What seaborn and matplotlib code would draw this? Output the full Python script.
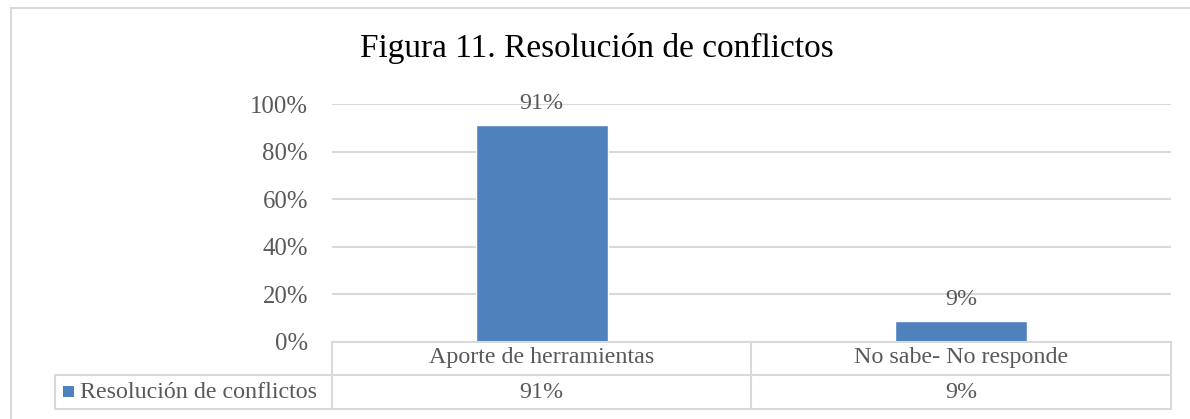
import matplotlib
matplotlib.use("Agg")
import matplotlib.pyplot as plt
import seaborn as sns
import pandas as pd
from matplotlib.lines import Line2D
from matplotlib.patches import Rectangle
from matplotlib.ticker import PercentFormatter

categories = ["Aporte de herramientas", "No sabe- No responde"]
values = [0.91, 0.09]
value_labels = ["91%", "9%"]
series_name = "Resolución de conflictos"
title = "Figura 11. Resolución de conflictos"
yticks = [0, 0.2, 0.4, 0.6, 0.8, 1.0]

sns.set_theme(style="white")
plt.rcParams["font.family"] = ["Liberation Serif", "DejaVu Serif"]

W, H = 1190, 419
fig = plt.figure(figsize=(W / 100, H / 100), dpi=100)

def fx(px):
    return px / W

def fy(py):
    return 1 - py / H

L, R, T, B = 332, 1171, 104, 342
ax = fig.add_axes([fx(L), fy(B), fx(R) - fx(L), fy(T) - fy(B)])

blue = "#4F81BD"
grid = "#D9D9D9"
txt = "#595959"
fs = 17.3

df = pd.DataFrame({"cat": categories, "val": values})
sns.barplot(data=df, x="cat", y="val", color=blue, width=0.315, ax=ax,
            saturation=1)
ax.set_ylim(0, 1)
ax.set_xlim(-0.5, 1.5)
ax.set_yticks(yticks)
ax.yaxis.set_major_formatter(PercentFormatter(1.0, decimals=0))
ax.tick_params(axis="y", length=0, pad=17.3, labelsize=17.8, labelcolor=txt)
ax.set_xticks([])
ax.set_xlabel("")
ax.set_ylabel("")
for s in ax.spines.values():
    s.set_visible(False)
ax.grid(axis="y", color=grid, linewidth=1.5)
ax.set_axisbelow(True)

for i, (v, lab) in enumerate(zip(values, value_labels)):
    ax.annotate(lab, (i, v), xytext=(0, 11), textcoords="offset pixels",
                ha="center", va="bottom", fontsize=fs, color=txt)

# data table lines
def hline(y, x0, x1):
    fig.add_artist(Line2D([fx(x0), fx(x1)], [fy(y), fy(y)], color=grid, lw=1.5))

def vline(x, y0, y1):
    fig.add_artist(Line2D([fx(x), fx(x)], [fy(y0), fy(y1)], color=grid, lw=1.5))

mid = 751
hline(342, L, R)
hline(375, 55, R)
hline(409, 55, R)
vline(L, 342, 409)
vline(mid, 342, 409)
vline(R, 342, 409)
vline(55, 375, 409)

# outer chart border
hline(8, 11, 1190)
vline(11, 8, 419)

for i, c in enumerate(categories):
    ax.text(i, -((358 - B) / (B - T)), c, ha="center", va="center",
            fontsize=fs, color=txt, transform=ax.transData, clip_on=False)
    ax.text(i, -((392 - B) / (B - T)), value_labels[i], ha="center", va="center",
            fontsize=fs, color=txt, transform=ax.transData, clip_on=False)

fig.add_artist(Rectangle((fx(63), fy(397)), fx(74) - fx(63), fy(386) - fy(397),
                         color=blue, lw=0))
fig.text(fx(80), fy(392), series_name, ha="left", va="center",
         fontsize=fs, color=txt)

fig.text(fx(597), fy(48), title, ha="center", va="center", fontsize=24,
         color="black")

fig.savefig("out.png", dpi=100)
